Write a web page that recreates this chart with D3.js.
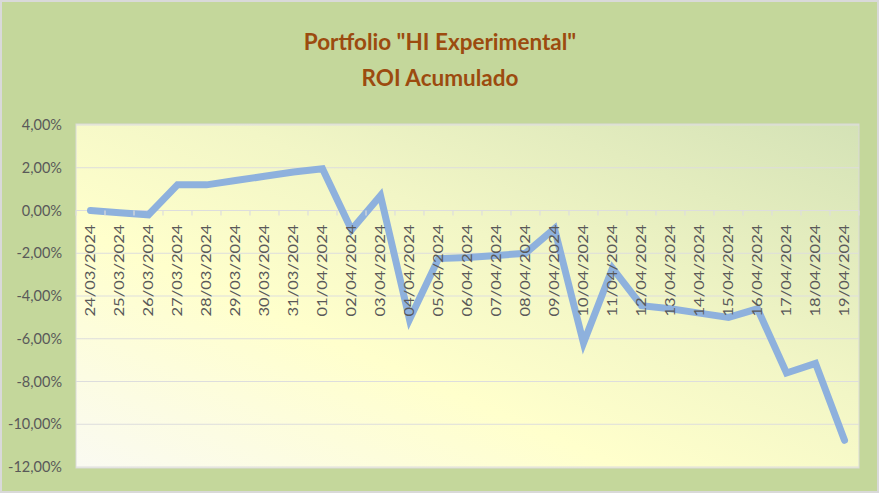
<!DOCTYPE html>
<html><head><meta charset="utf-8">
<script src="https://cdn.jsdelivr.net/npm/d3@7"></script>
<style>
html,body{margin:0;padding:0;background:#fff;}
svg{display:block;font-family:Lato,"Open Sans",sans-serif;}
</style></head>
<body>
<svg id="chart" width="880" height="495"></svg>
<script>
const titleLines = ['Portfolio "HI Experimental"', 'ROI Acumulado'];
const dates = ["24/03/2024","25/03/2024","26/03/2024","27/03/2024","28/03/2024","29/03/2024","30/03/2024","31/03/2024",
  "01/04/2024","02/04/2024","03/04/2024","04/04/2024","05/04/2024","06/04/2024","07/04/2024","08/04/2024","09/04/2024",
  "10/04/2024","11/04/2024","12/04/2024","13/04/2024","14/04/2024","15/04/2024","16/04/2024","17/04/2024","18/04/2024","19/04/2024"];
const roi = [0.0,-0.1,-0.2,1.2,1.2,1.4,1.6,1.8,1.95,-0.9,0.7,-5.1,-2.25,-2.2,-2.1,-2.0,-0.85,-6.2,-2.7,-4.45,-4.6,-4.8,-5.0,-4.6,-7.6,-7.15,-10.75];
const yTicks = [4,2,0,-2,-4,-6,-8,-10,-12];

const svg = d3.select("#chart");
const W = 880, H = 495;
const plot = {left:76, right:859, top:125, bottom:467};

// outer background
svg.append("rect").attr("x",1).attr("y",1).attr("width",W-3).attr("height",H-4)
  .attr("fill","#C4D79B").attr("stroke","#D9D9D9").attr("stroke-width",2);

const defs = svg.append("defs");
const grad = defs.append("linearGradient").attr("id","pg")
  .attr("x1","0%").attr("y1","100%").attr("x2","100%").attr("y2","0%");
grad.append("stop").attr("offset","0%").attr("stop-color","#FAFAF2");
grad.append("stop").attr("offset","35%").attr("stop-color","#FFFFCC");
grad.append("stop").attr("offset","60%").attr("stop-color","#F2F6C6");
grad.append("stop").attr("offset","100%").attr("stop-color","#D4E2B6");

svg.append("rect").attr("x",plot.left).attr("y",plot.top-1)
  .attr("width",plot.right-plot.left).attr("height",plot.bottom-plot.top+2)
  .attr("fill","url(#pg)").attr("stroke","#D9D9D9").attr("stroke-width",1);

const x = d3.scaleBand().domain(dates).range([plot.left, plot.right]);
const y = d3.scaleLinear().domain([-12,4]).range([plot.bottom, plot.top]);

// gridlines
svg.append("g").selectAll("line").data(yTicks).join("line")
  .attr("x1",plot.left).attr("x2",plot.right)
  .attr("y1",d=>y(d)).attr("y2",d=>y(d))
  .attr("stroke","#DDDDDD").attr("stroke-width",1.2);

// y axis labels
const yAxis = d3.axisLeft(y).tickValues(yTicks).tickSize(0).tickPadding(0);
const ya = svg.append("g").attr("transform",`translate(62,0)`).call(yAxis);
ya.select(".domain").remove();
ya.selectAll("text").attr("fill","#595959").attr("font-size",14.5).attr("font-family","Lato, sans-serif")
  .text(d => (d<0?"-":"") + d3.format(".2f")(Math.abs(d)).replace(".",",") + "%");

// line
const line = d3.line().x((d,i)=>x(dates[i])+x.bandwidth()/2).y(d=>y(d));
svg.append("path").datum(roi).attr("d",line).attr("fill","none")
  .attr("stroke","#8EB1DD").attr("stroke-width",7).attr("stroke-linejoin","miter")
  .attr("stroke-linecap","round");

// x axis at 0 (drawn above the line, as in the reference)
const xa = svg.append("g").attr("transform",`translate(0,${y(0)})`)
  .call(d3.axisBottom(x).tickSize(0).tickPadding(0));
xa.select(".domain").attr("stroke","#DDDDDD").attr("stroke-width",1.2).attr("opacity",0);
// tick marks between categories
svg.append("g").selectAll("line").data(d3.range(dates.length+1)).join("line")
  .attr("x1",i=>plot.left + i*x.step()).attr("x2",i=>plot.left + i*x.step())
  .attr("y1",y(0)).attr("y2",y(0)+5).attr("stroke","#DDDDDD").attr("stroke-width",1.2);
xa.selectAll("text")
  .attr("fill","#595959").attr("font-size",13.5).attr("font-family","Lato, sans-serif")
  .attr("text-anchor","end").attr("dy","0.35em")
  .attr("textLength",92).attr("lengthAdjust","spacingAndGlyphs")
  .attr("transform","translate(0,14) rotate(-90)").attr("x",0).attr("y",0);

// title
const t = svg.append("g");
titleLines.forEach((s,i)=>{
  t.append("text").attr("x",440).attr("y",50+i*36).attr("text-anchor","middle")
    .attr("font-size",22.5).attr("font-weight","bold").attr("fill","#9C4B0F")
    .attr("font-family","Lato, sans-serif").text(s);
});
</script>
</body></html>
